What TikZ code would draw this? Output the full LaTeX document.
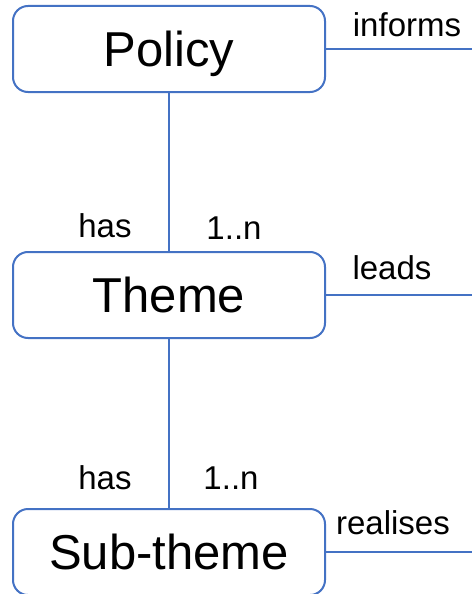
\documentclass[tikz,border=0pt]{standalone}
\usepackage{fontspec}
\setmainfont{Liberation Sans}
\definecolor{linkblue}{RGB}{68,114,196}

\tikzset{
	entity/.style={draw=linkblue, line width=2pt, rounded corners=15pt,
		minimum width=312pt, minimum height=86pt, inner sep=0pt,
		text height=35pt, text depth=0pt,
		font=\fontsize{49}{56}\selectfont},
	rel/.style={font=\fontsize{33}{38}\selectfont, inner sep=0pt},
	link/.style={draw=linkblue, line width=2pt}
}

\begin{document}
\begin{tikzpicture}[x=1pt,y=1pt]
				\useasboundingbox (0,0) rectangle (472,-594);

				\draw (169,-49) node[entity] (policy) {Policy};
				\draw (169,-295) node[entity] (theme) {Theme};
				\draw (169,-552) node[entity] (subtheme) {Sub-theme};

				\coordinate (informsEnd) at (472,-49);
				\coordinate (leadsEnd) at (472,-295);
				\coordinate (realisesEnd) at (472,-552);

				\draw (407,-25) node[rel] (informs) {informs};
				\draw (392,-268) node[rel] (leads) {leads};
				\draw (393,-523) node[rel] (realises) {realises};
				\draw (105,-226) node[rel] (hasA) {has};
				\draw (234,-228) node[rel] (multA) {1..n};
				\draw (105,-478) node[rel] (hasB) {has};
				\draw (231,-478) node[rel] (multB) {1..n};

				\path[link]
				(policy) edge node {} (theme)
				(theme) edge node {} (subtheme)
				(policy) edge node {} (informsEnd)
				(theme) edge node {} (leadsEnd)
				(subtheme) edge node {} (realisesEnd)
				;
			\end{tikzpicture}
\end{document}
